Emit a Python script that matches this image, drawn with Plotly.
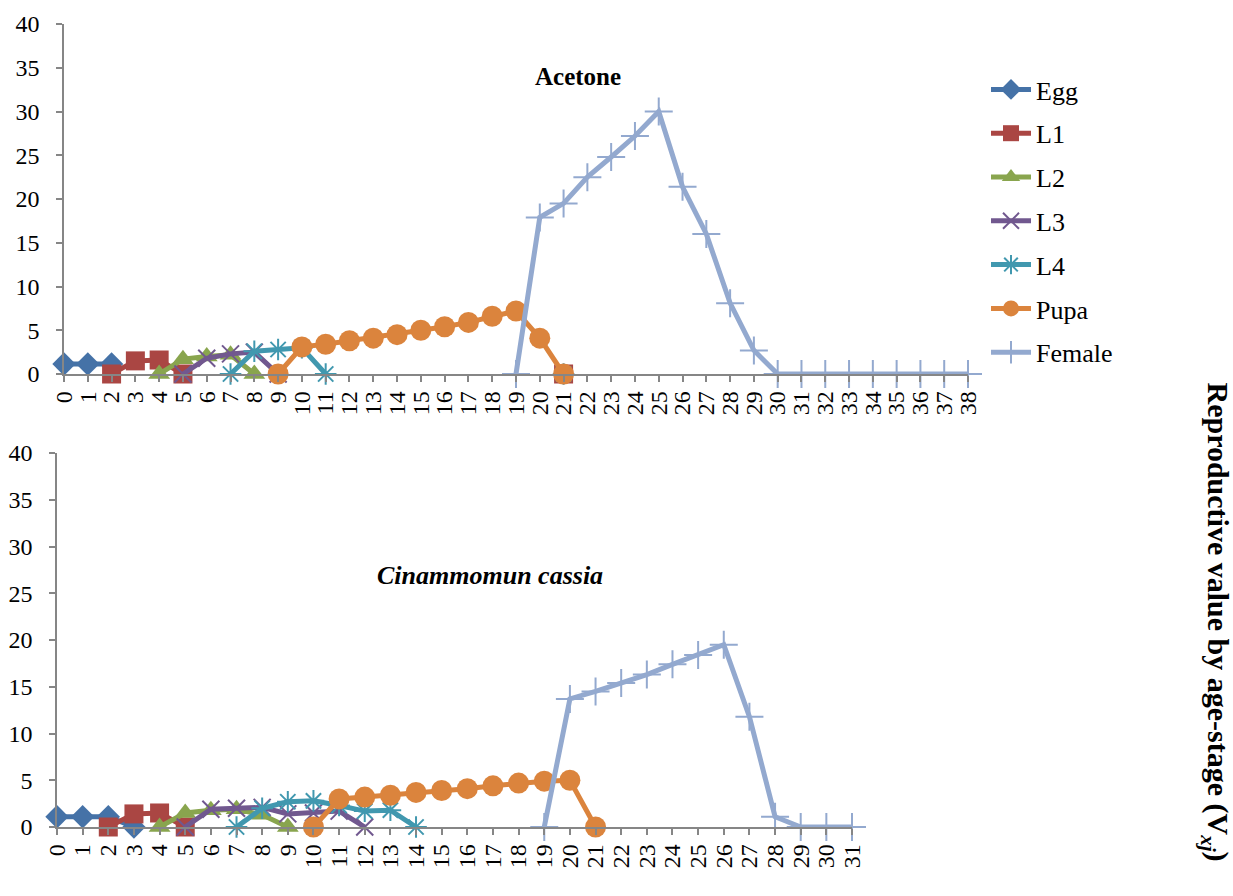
import plotly.graph_objects as go

W, H = 1233, 896

# ---- Acetone (days 0..38) ----
ace_days = list(range(0, 39))
ace_egg_days = [0, 1, 2]
ace_egg = [1.15, 1.15, 1.15]
ace_l1_days = [2, 3, 4, 5, 6, 21]
ace_l1 = [0, 1.5, 1.6, 0, None, 0]
ace_l2_days = [4, 5, 6, 7, 8]
ace_l2 = [0, 1.7, 2.0, 2.2, 0]
ace_l3_days = [5, 6, 7, 8, 9]
ace_l3 = [0, 1.8, 2.3, 2.5, 0]
ace_l4_days = [7, 8, 9, 10, 11, 12, 21]
ace_l4 = [0, 2.6, 2.8, 3.0, 0, None, 0]
ace_pupa_days = list(range(9, 22))
ace_pupa = [0, 3.1, 3.4, 3.8, 4.1, 4.5, 5.0, 5.4, 5.9, 6.6, 7.2, 4.1, 0]
ace_female_days = list(range(19, 39))
ace_female = [0, 17.9, 19.5, 22.5, 24.8, 27.2, 30.0, 21.4, 16.0, 8.1, 2.7,
              0, 0, 0, 0, 0, 0, 0, 0, 0]

# ---- Cinammomun cassia (days 0..31) ----
cas_days = list(range(0, 32))
cas_egg_days = [0, 1, 2, 3]
cas_egg = [1.1, 1.1, 1.1, 0]
cas_l1_days = [2, 3, 4, 5]
cas_l1 = [0, 1.4, 1.5, 0]
cas_l2_days = [4, 5, 6, 7, 8, 9]
cas_l2 = [0, 1.5, 1.8, 1.9, 1.3, 0]
cas_l3_days = [5, 6, 7, 8, 9, 10, 11, 12]
cas_l3 = [0, 1.9, 2.0, 2.1, 1.4, 1.5, 1.7, 0]
cas_l4_days = [7, 8, 9, 10, 11, 12, 13, 14]
cas_l4 = [0, 2.0, 2.7, 2.8, 2.3, 1.7, 1.8, 0]
cas_pupa_days = list(range(10, 22))
cas_pupa = [0, 3.0, 3.2, 3.4, 3.7, 3.9, 4.1, 4.4, 4.7, 4.9, 5.0, 0]
cas_female_days = list(range(19, 32))
cas_female = [0, 13.7, 14.5, 15.4, 16.3, 17.4, 18.4, 19.5, 11.8, 1.1, 0, 0, 0]

stage_names = ["Egg", "L1", "L2", "L3", "L4", "Pupa", "Female"]
colors = ["#4572A7", "#AA4643", "#89A54E", "#71588F", "#4198AF", "#DB843D", "#93A9CF"]
symbols = ["diamond", "square", "triangle-up", "x-thin", "asterisk", "circle", "cross-thin"]
sizes = [18, 19, 19, 17, 18, 21, 20]

ace_series = [(ace_egg_days, ace_egg), (ace_l1_days, ace_l1), (ace_l2_days, ace_l2),
              (ace_l3_days, ace_l3), (ace_l4_days, ace_l4), (ace_pupa_days, ace_pupa),
              (ace_female_days, ace_female)]
cas_series = [(cas_egg_days, cas_egg), (cas_l1_days, cas_l1), (cas_l2_days, cas_l2),
              (cas_l3_days, cas_l3), (cas_l4_days, cas_l4), (cas_pupa_days, cas_pupa),
              (cas_female_days, cas_female)]

SERIF = "Liberation Serif, Times New Roman, serif"

fig = go.Figure()


def add_series(series, xa, ya, show):
    for i, (d, v) in enumerate(series):
        thin = symbols[i] in ("x-thin", "asterisk", "cross-thin")
        fig.add_trace(go.Scatter(
            x=d, y=v, mode="lines+markers", name=stage_names[i],
            xaxis=xa, yaxis=ya, showlegend=show, legendgroup=stage_names[i],
            cliponaxis=False, connectgaps=False,
            line=dict(color=colors[i], width=5),
            marker=dict(symbol=symbols[i], size=sizes[i], color=colors[i],
                        line=dict(color=colors[i], width=2 if thin else 0)),
        ))


add_series(ace_series, "x", "y", True)
add_series(cas_series, "x2", "y2", False)

axis_gray = "#868686"
tick_font = dict(family=SERIF, size=24, color="black")


def xax(domain, days, anchor):
    return dict(domain=domain, anchor=anchor, range=[days[0], days[-1]],
                tickmode="array", tickvals=days, ticktext=[str(t) for t in days],
                tickangle=-90, ticks="outside", ticklen=6, tickwidth=1.5, tickcolor=axis_gray,
                showline=True, linecolor=axis_gray, linewidth=1.5, automargin=False,
                showgrid=False, zeroline=False, tickfont=tick_font)


def yax(domain, anchor):
    return dict(domain=domain, anchor=anchor, range=[0, 40], dtick=5,
                ticks="outside", ticklen=6, tickwidth=1.5, tickcolor=axis_gray,
                showline=True, linecolor=axis_gray, linewidth=1.5, automargin=False,
                ticklabelstandoff=12,
                showgrid=False, zeroline=False, tickfont=tick_font)


fig.update_layout(
    width=W, height=H,
    margin=dict(l=0, r=0, t=0, b=0, autoexpand=False),
    paper_bgcolor="white", plot_bgcolor="white",
    font=dict(family=SERIF, color="black"),
    xaxis=xax([64 / W, 968 / W], ace_days, "y"),
    yaxis=yax([(H - 374) / H, (H - 24) / H], "x"),
    xaxis2=xax([57 / W, 852 / W], cas_days, "y2"),
    yaxis2=yax([(H - 827) / H, (H - 453) / H], "x2"),
    legend=dict(x=986 / W, y=(H - 66) / H, xanchor="left", yanchor="top",
                font=dict(size=26, family=SERIF),
                tracegroupgap=7, bgcolor="rgba(0,0,0,0)", itemwidth=40),
    annotations=[
        dict(text="<b>Acetone</b>", x=578 / W, y=(H - 76) / H, xref="paper", yref="paper",
             xanchor="center", yanchor="middle", showarrow=False, font=dict(size=25)),
        dict(text="<b><i>Cinammomun cassia</i></b>", x=490 / W, y=(H - 575) / H,
             xref="paper", yref="paper", xanchor="center", yanchor="middle",
             showarrow=False, font=dict(size=26)),
        dict(text="<b>Reproductive value by age-stage (V<sub><i>xj</i></sub>)</b>",
             x=1216 / W, y=(H - 380) / H, xref="paper", yref="paper",
             xanchor="center", yanchor="top", textangle=90, showarrow=False,
             font=dict(size=30)),
    ],
)

fig.write_html("out.html")
